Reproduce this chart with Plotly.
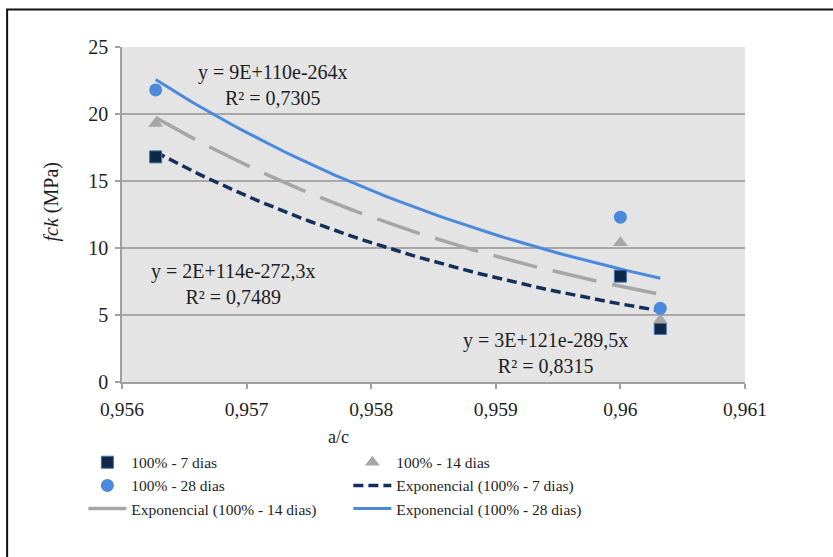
import numpy as np
import plotly.graph_objects as go

# water/cement ratio and compressive strength (MPa) at each age
ac = [0.95627, 0.96, 0.96032]
fck_7 = [16.8, 7.9, 4.0]
fck_14 = [19.3, 10.4, 4.6]
fck_28 = [21.8, 12.3, 5.5]

# exponents of the exponential trendlines, y = A·e^(b·x)
b_7, b_14, b_28 = -289.5, -272.3, -264.0
eq_7 = "y = 3E+121e-289,5x<br>R² = 0,8315"
eq_14 = "y = 2E+114e-272,3x<br>R² = 0,7489"
eq_28 = "y = 9E+110e-264x<br>R² = 0,7305"

x_ticks = [0.956, 0.957, 0.958, 0.959, 0.96, 0.961]
x_tick_labels = ["0,956", "0,957", "0,958", "0,959", "0,96", "0,961"]
y_ticks = [0, 5, 10, 15, 20, 25]

FONT = "Liberation Serif"
TXT = "#1e1e1e"
C7 = "#14305A"
C14 = "#A6A6A6"
C28 = "#4A89DC"


def exp_trend(x, y, b, n=60):
    """Exponential trendline with exponent b; the factor A is the
    least-squares value in log space."""
    x = np.asarray(x, float)
    ly = np.log(np.asarray(y, float))
    xm, lm = x.mean(), ly.mean()
    xs = np.linspace(x.min(), x.max(), n)
    return xs, np.exp(lm + b * (xs - xm))


fig = go.Figure()

# trendlines (drawn under the markers)
for xv, yv, b, name, color, dash, w, rank in [
    (ac, fck_7, b_7, "Exponencial (100% - 7 dias)", C7, "10px,5px", 3.5, 4),
    (ac, fck_14, b_14, "Exponencial (100% - 14 dias)", C14, "45px,16px", 3.5, 5),
    (ac, fck_28, b_28, "Exponencial (100% - 28 dias)", C28, "solid", 3, 6),
]:
    xs, ys = exp_trend(xv, yv, b)
    fig.add_trace(go.Scatter(
        x=xs, y=ys, mode="lines", name=name, legendrank=rank,
        line=dict(color=color, width=w, dash=dash),
        hoverinfo="skip",
    ))

fig.add_trace(go.Scatter(
    x=ac, y=fck_7, mode="markers", name="100% - 7 dias", legendrank=1,
    marker=dict(symbol="square", size=12, color="#0F2847",
                line=dict(color="#3F6FB0", width=1)),
))
fig.add_trace(go.Scatter(
    x=ac, y=fck_14, mode="markers", name="100% - 14 dias", legendrank=2,
    marker=dict(symbol="triangle-up", size=13, color=C14),
))
fig.add_trace(go.Scatter(
    x=ac, y=fck_28, mode="markers", name="100% - 28 dias", legendrank=3,
    marker=dict(symbol="circle", size=13, color=C28),
))

# trendline equations
for (x, y), txt in [((0.957215, 22.19), eq_28),
                    ((0.956898, 7.33), eq_14),
                    ((0.95940, 2.16), eq_7)]:
    fig.add_annotation(x=x, y=y, xref="x", yref="y", text=txt,
                       showarrow=False, align="center",
                       font=dict(family=FONT, size=20, color=TXT))

# axis titles
fig.add_annotation(x=0.327, y=-0.2, xref="paper", yref="paper",
                   text="a/c", showarrow=False,
                   font=dict(family=FONT, size=18, color=TXT))
fig.add_annotation(x=-0.135, y=0.537, xref="paper", yref="paper",
                   text="<i>fck</i> (MPa)", textangle=-90, showarrow=False,
                   font=dict(family=FONT, size=20, color=TXT))

# chart frame
fig.add_shape(type="rect", xref="paper", yref="paper",
              x0=-0.1844, y0=-1.0, x1=1.6, y1=1.1123,
              line=dict(color="#111111", width=2), fillcolor="rgba(0,0,0,0)",
              layer="below")

fig.update_layout(
    width=833, height=557,
    margin=dict(l=122, r=88, t=47, b=175),
    paper_bgcolor="white",
    plot_bgcolor="#E4E4E4",
    separators=", ",
    font=dict(family=FONT, size=19, color=TXT),
    showlegend=True,
    legend=dict(
        orientation="h", x=-0.062, y=-0.19, xanchor="left", yanchor="top",
        entrywidth=212, entrywidthmode="pixels", itemwidth=38,
        font=dict(family=FONT, size=15.5, color=TXT),
        bgcolor="rgba(0,0,0,0)", traceorder="normal",
    ),
    xaxis=dict(
        range=[0.956, 0.961], tickvals=x_ticks, ticktext=x_tick_labels,
        showgrid=False, zeroline=False,
        showline=True, linecolor="#A0A0A0", linewidth=1.5,
        ticks="outside", ticklen=5, tickcolor="#A0A0A0", tickwidth=1.5,
        ticklabelstandoff=4,
        tickfont=dict(family=FONT, size=19.5, color=TXT),
    ),
    yaxis=dict(
        range=[0, 25], tickvals=y_ticks,
        showgrid=True, gridcolor="#A8A8A8", gridwidth=1.5, zeroline=False,
        showline=True, linecolor="#A0A0A0", linewidth=1.5,
        ticks="outside", ticklen=5, tickcolor="#A0A0A0", tickwidth=1.5,
        ticklabelstandoff=3,
        tickfont=dict(family=FONT, size=20, color=TXT),
    ),
)

fig.write_html("out.html")
